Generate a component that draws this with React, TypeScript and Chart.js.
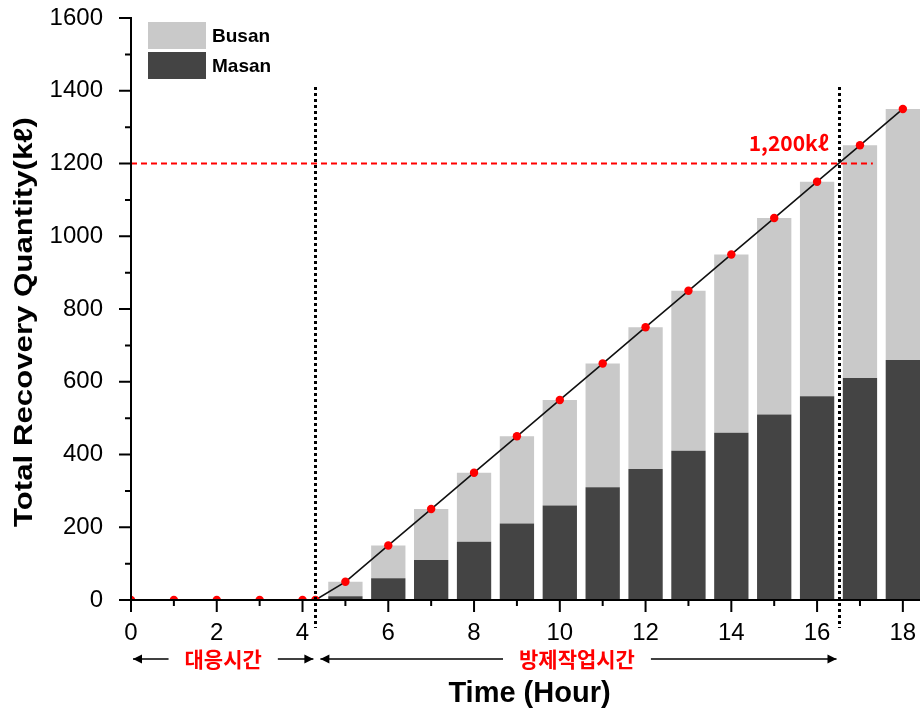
import { useEffect, useRef } from "react";
import { Chart, registerables } from "chart.js";

Chart.register(...registerables);

// Hours at which both ports have recovered oil (cumulative, kℓ)
const hours = [5, 6, 7, 8, 9, 10, 11, 12, 13, 14, 15, 16, 17, 18];
const masan = [10, 60, 110, 160, 210, 260, 310, 360, 410, 460, 510, 560, 610, 660];
const busan = [40, 90, 140, 190, 240, 290, 340, 390, 440, 490, 540, 590, 640, 690];

// Combined total, including the response period before recovery begins
const totalHours = [0, 1, 2, 3, 4, 4.3, 5, 6, 7, 8, 9, 10, 11, 12, 13, 14, 15, 16, 17, 18];
const totalValues = [0, 0, 0, 0, 0, 0, 50, 150, 250, 350, 450, 550, 650, 750, 850, 950, 1050, 1150, 1250, 1350];

const seriesLabels = ["Masan", "Busan"];
const seriesColors = ["#444444", "#c9c9c9"];

const targetQuantity = 1200;
const targetLabel = "1,200kℓ";
const targetLineEnd = 17.3;
const responseEnd = 4.3;
const targetReached = 16.5;
const markerTop = 1410;
const phaseLabels = ["대응시간", "방제작업시간"];

const xMin = 0;
const xMax = 18.4;
const xStep = 2;
const yMin = 0;
const yMax = 1600;
const yStep = 200;

const xTitle = "Time (Hour)";
const yTitle = "Total Recovery Quantity(kℓ)";

const LATIN = '"Liberation Sans", Arial, sans-serif';
const KOREAN = '"Noto Sans CJK KR", sans-serif';

function drawArrow(
  ctx: CanvasRenderingContext2D,
  x1: number,
  x2: number,
  yy: number,
  headStart: boolean,
  headEnd: boolean
) {
  ctx.beginPath();
  ctx.moveTo(x1, yy);
  ctx.lineTo(x2, yy);
  ctx.stroke();
  const head = (tip: number, dir: number) => {
    ctx.beginPath();
    ctx.moveTo(tip, yy);
    ctx.lineTo(tip - dir * 9, yy - 4.5);
    ctx.lineTo(tip - dir * 9, yy + 4.5);
    ctx.closePath();
    ctx.fill();
  };
  if (headStart) head(x1, -1);
  if (headEnd) head(x2, 1);
}

// scales keep their own box sizes; label overhang must not shrink the plot
const fixBox = (size: { width?: number; height?: number }) => (s: any) => {
  if (size.width !== undefined) s.width = size.width;
  if (size.height !== undefined) s.height = size.height;
  s.paddingTop = 0;
  s.paddingBottom = 0;
  s.paddingLeft = 0;
  s.paddingRight = 0;
};

const overlayPlugin = {
  id: "recoveryOverlay",
  afterDatasetsDraw(chart: any) {
    const { ctx, chartArea, scales } = chart;
    const xs = scales.x;
    const ys = scales.y;
    const left = chartArea.left;
    const bottom = chartArea.bottom;
    ctx.save();

    // target quantity reference line
    const ty = ys.getPixelForValue(targetQuantity);
    ctx.strokeStyle = "#ff0000";
    ctx.lineWidth = 2;
    ctx.setLineDash([6, 4]);
    ctx.beginPath();
    ctx.moveTo(xs.getPixelForValue(xMin), ty);
    ctx.lineTo(xs.getPixelForValue(targetLineEnd), ty);
    ctx.stroke();

    // phase boundaries
    ctx.strokeStyle = "#000";
    ctx.lineWidth = 3;
    ctx.setLineDash([3, 3]);
    [responseEnd, targetReached].forEach((h) => {
      const px = Math.round(xs.getPixelForValue(h)) + 0.5;
      ctx.beginPath();
      ctx.moveTo(px, ys.getPixelForValue(markerTop));
      ctx.lineTo(px, bottom + 28);
      ctx.stroke();
    });
    ctx.setLineDash([]);

    // axes with major and minor tick marks
    ctx.lineWidth = 2;
    ctx.beginPath();
    ctx.moveTo(left, ys.getPixelForValue(yMax) - 1);
    ctx.lineTo(left, bottom);
    ctx.lineTo(chart.width, bottom);
    ctx.stroke();
    ctx.beginPath();
    for (let v = yMin; v <= yMax; v += yStep / 2) {
      const len = v % yStep === 0 ? 12 : 6;
      const py = ys.getPixelForValue(v);
      ctx.moveTo(left, py);
      ctx.lineTo(left - len, py);
    }
    for (let h = xMin; h <= Math.floor(xMax); h += 1) {
      const len = h % xStep === 0 ? 12 : 6;
      const px = xs.getPixelForValue(h);
      ctx.moveTo(px, bottom);
      ctx.lineTo(px, bottom + len);
    }
    ctx.stroke();

    // target label
    ctx.fillStyle = "#ff0000";
    ctx.font = `bold 21px ${KOREAN}`;
    ctx.textAlign = "right";
    ctx.textBaseline = "middle";
    ctx.fillText(targetLabel, xs.getPixelForValue(targetReached) - 10, ty - 20);

    // phase spans below the axis
    const rowY = bottom + 59;
    const gap = 16;
    const spans = [
      [xMin, responseEnd],
      [responseEnd, targetReached],
    ];
    spans.forEach(([a, b], i) => {
      const pa = xs.getPixelForValue(a) + 2;
      const pb = xs.getPixelForValue(b) - 2;
      const mid = (xs.getPixelForValue(a) + xs.getPixelForValue(b)) / 2;
      ctx.font = `bold 21px ${KOREAN}`;
      ctx.textAlign = "center";
      ctx.fillStyle = "#ff0000";
      const w = ctx.measureText(phaseLabels[i]).width;
      ctx.fillText(phaseLabels[i], mid, rowY);
      ctx.fillStyle = "#000";
      ctx.strokeStyle = "#000";
      ctx.lineWidth = 1.6;
      drawArrow(ctx, i === 0 ? pa : pa + 3, mid - w / 2 - gap, rowY, true, false);
      drawArrow(ctx, mid + w / 2 + gap, pb, rowY, false, true);
    });

    // axis titles
    ctx.fillStyle = "#000";
    ctx.textAlign = "center";
    ctx.textBaseline = "middle";
    ctx.font = `bold 29px ${LATIN}`;
    ctx.fillText(xTitle, (xs.left + xs.right) / 2 + 4, bottom + 94);

    ctx.save();
    ctx.translate(25, (chartArea.top + bottom) / 2 + 13);
    ctx.rotate(-Math.PI / 2);
    ctx.scale(1.2, 1);
    ctx.font = `bold 26px ${LATIN}`;
    ctx.fillText(yTitle, 0, 0);
    ctx.restore();

    // legend, top entry first
    const lx = left + 17;
    let ly = chartArea.top + 4;
    const entries = chart.data.datasets
      .filter((d: any) => d.type === "bar")
      .slice()
      .reverse();
    entries.forEach((d: any) => {
      ctx.fillStyle = d.backgroundColor;
      ctx.fillRect(lx, ly, 58, 27);
      ctx.fillStyle = "#000";
      ctx.textAlign = "left";
      ctx.font = `bold 19px ${LATIN}`;
      ctx.fillText(d.label, lx + 64, ly + 15);
      ly += 30;
    });

    ctx.restore();
  },
};

export default function App() {
  const canvasRef = useRef<HTMLCanvasElement | null>(null);

  useEffect(() => {
    const canvas = canvasRef.current;
    if (!canvas) return;
    const tickFont = { family: LATIN, size: 24 };
    const chart = new Chart(canvas, {
      type: "bar",
      data: {
        datasets: [
          {
            type: "line",
            label: "Total",
            data: totalHours.map((h, i) => ({ x: h, y: totalValues[i] })),
            borderColor: "#111",
            borderWidth: 1.6,
            pointRadius: 4.2,
            pointBackgroundColor: "#ff0000",
            pointBorderWidth: 0,
            tension: 0,
            stack: "total",
            order: 0,
          },
          {
            type: "bar",
            label: seriesLabels[0],
            data: hours.map((h, i) => ({ x: h, y: masan[i] })),
            backgroundColor: seriesColors[0],
            borderWidth: 0,
            stack: "ports",
            categoryPercentage: 0.8,
            barPercentage: 1,
            order: 1,
          },
          {
            type: "bar",
            label: seriesLabels[1],
            data: hours.map((h, i) => ({ x: h, y: busan[i] })),
            backgroundColor: seriesColors[1],
            borderWidth: 0,
            stack: "ports",
            categoryPercentage: 0.8,
            barPercentage: 1,
            order: 1,
          },
        ] as any,
      },
      options: {
        responsive: true,
        maintainAspectRatio: false,
        animation: false,
        layout: { autoPadding: false, padding: { top: 18, left: 0, right: 0, bottom: 0 } },
        plugins: {
          legend: { display: false },
          tooltip: { enabled: false },
        },
        scales: {
          x: {
            type: "linear",
            min: xMin,
            max: xMax,
            offset: false,
            stacked: true,
            grid: { display: false, offset: false },
            border: { display: false },
            ticks: {
              stepSize: xStep,
              includeBounds: false,
              autoSkip: false,
              maxRotation: 0,
              padding: 11,
              color: "#000",
              font: tickFont,
              callback: (v: any) => String(v),
            },
            afterFit: fixBox({ height: 114 }),
          },
          y: {
            type: "linear",
            min: yMin,
            max: yMax,
            stacked: true,
            grid: { display: false },
            border: { display: false },
            ticks: {
              stepSize: yStep,
              padding: 20,
              color: "#000",
              font: tickFont,
              callback: (v: any) => String(v),
            },
            afterFit: fixBox({ width: 131 }),
          },
        },
      } as any,
      plugins: [overlayPlugin],
    });
    return () => chart.destroy();
  }, []);

  return (
    <div
      style={{
        position: "absolute",
        left: 0,
        top: 0,
        width: 920,
        height: 714,
        background: "#fff",
      }}
    >
      <canvas ref={canvasRef} />
    </div>
  );
}
